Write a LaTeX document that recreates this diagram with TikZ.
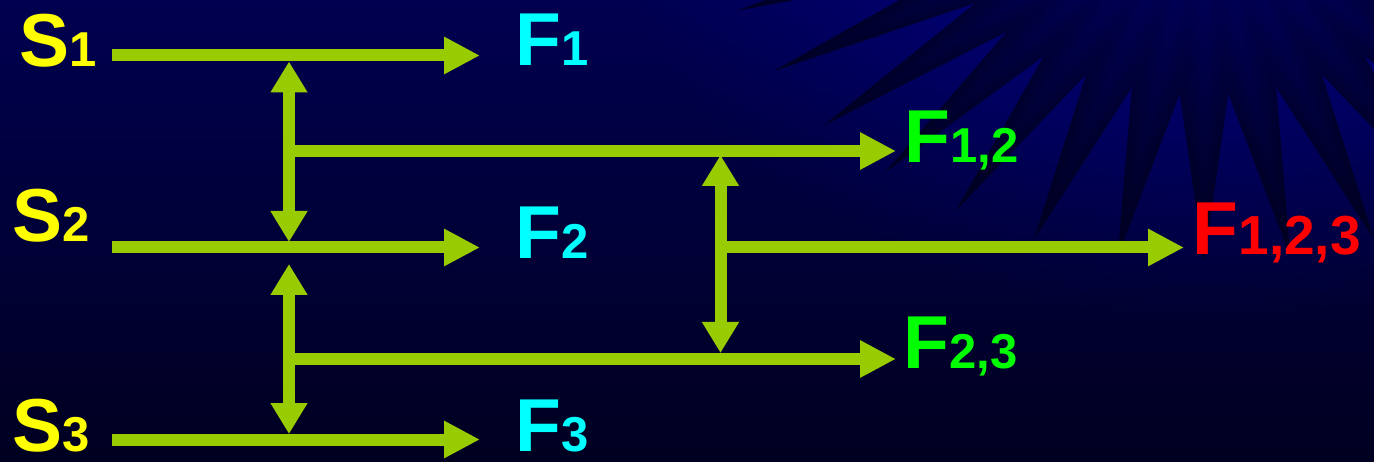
\documentclass[tikz,border=0pt]{standalone}
\usepackage{fontspec}
\setmainfont{Liberation Sans}
\usetikzlibrary{arrows.meta,calc,fadings}

\definecolor{bgtop}{RGB}{0,0,80}
\definecolor{bgbot}{RGB}{0,0,32}
\definecolor{flow}{RGB}{153,204,0}
\definecolor{srcyellow}{RGB}{255,255,0}
\definecolor{fcyan}{RGB}{0,255,255}
\definecolor{fgreen}{RGB}{0,255,0}
\definecolor{fred}{RGB}{255,0,0}
\definecolor{spikemid}{RGB}{0,0,20}
\definecolor{burstglow}{RGB}{0,0,200}

% soft glow around the middle of the starburst
\tikzfading[name=glowfade, inner color=transparent!50, outer color=transparent!100]

% label with a smaller index sitting on the same baseline
\newcommand\idxtxt[3][49]{#2{\fontsize{#1}{#1}\selectfont #3}}

\tikzset{
  lab/.style={inner sep=0pt, anchor=base west,
    font=\fontsize{75}{80}\selectfont\bfseries},
  flowline/.style={draw=flow, line width=12pt},
  hflow/.style={flowline, -{Triangle[length=36pt,width=35pt]}},
  vflow/.style={flowline,
    {Triangle[length=31pt,width=35pt]}-{Triangle[length=31pt,width=35pt]}},
  spike/.style={top color=black, bottom color=black, middle color=spikemid},
}

\begin{document}
\begin{tikzpicture}[x=1pt,y=-1pt]
  \useasboundingbox (0,0) rectangle (1374,462);
  \shade[top color=bgtop, bottom color=bgbot] (0,0) rectangle (1374,462);

  % starburst in the upper right corner: 36 shaded spikes
  \begin{scope}
    \clip (0,0) rectangle (1374,462);
    \begin{scope}[transform canvas={shift={(1204,-120)}, xscale=1.3}]
      \foreach \a in {0,10,...,350} {
        \begin{scope}[transform canvas={rotate=-\a}]
          \shade[spike] (0,0) -- (214.2,-18.7) -- (382,0) -- (214.2,18.7) -- cycle;
        \end{scope}
      }
    \end{scope}
    \fill[burstglow, path fading=glowfade]
      (1204,-120) ellipse [x radius=600, y radius=440];
  \end{scope}

  % labels
  \node[lab, text=srcyellow] (s1) at (19,67)  {\idxtxt{S}{1}};
  \node[lab, text=srcyellow] (s2) at (12.5,242) {\idxtxt{S}{2}};
  \node[lab, text=srcyellow] (s3) at (12.5,451) {\idxtxt{S}{3}};
  \node[lab, text=fcyan] (f1) at (515,66)  {\idxtxt{F}{1}};
  \node[lab, text=fcyan] (f2) at (515,259) {\idxtxt{F}{2}};
  \node[lab, text=fcyan] (f3) at (515,451) {\idxtxt{F}{3}};
  \node[lab, text=fgreen] (f12) at (904.5,163) {\idxtxt{F}{1,2}};
  \node[lab, text=fgreen] (f23) at (903.5,369) {\idxtxt{F}{2,3}};
  \node[lab, text=fred] (f123) at (1192.5,255) {\idxtxt[55]{F}{1,2,3}};

  % flow end points
  \coordinate (s1a) at (112,55.5);   \coordinate (s1b) at (480,55.5);
  \coordinate (s2a) at (112,247.5);  \coordinate (s2b) at (480,247.5);
  \coordinate (s3a) at (112,439.5);  \coordinate (s3b) at (480,439.5);
  \coordinate (v1t) at (289,61.5);   \coordinate (v1b) at (289,242);
  \coordinate (v2t) at (289,264);    \coordinate (v2b) at (289,434);
  \coordinate (v3t) at (720.5,155);  \coordinate (v3b) at (720.5,353);
  \coordinate (m12a) at (289,151);   \coordinate (m12b) at (896,151);
  \coordinate (m23a) at (289,359);   \coordinate (m23b) at (896,359);
  \coordinate (m123a) at (720.5,247.5); \coordinate (m123b) at (1184,247.5);

  % stream arrows
  \draw[hflow] (s1a) -- (s1b);
  \draw[hflow] (s2a) -- (s2b);
  \draw[hflow] (s3a) -- (s3b);
  \draw[hflow] (m12a) -- (m12b);
  \draw[hflow] (m23a) -- (m23b);
  \draw[hflow] (m123a) -- (m123b);

  % merging links
  \draw[vflow] (v1t) -- (v1b);
  \draw[vflow] (v2t) -- (v2b);
  \draw[vflow] (v3t) -- (v3b);
\end{tikzpicture}
\end{document}
